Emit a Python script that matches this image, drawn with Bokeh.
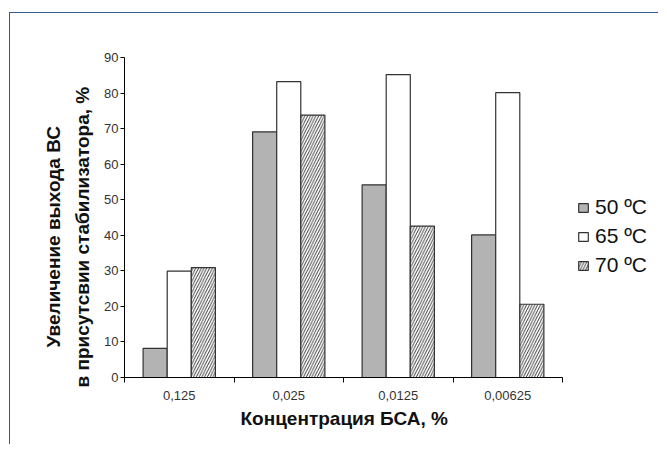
import numpy as np
from bokeh.plotting import figure
from bokeh.models import (ColumnDataSource, Range1d, FixedTicker, Legend, LegendItem, Title)
from bokeh.transform import dodge
from bokeh.embed import file_html
from bokeh.resources import INLINE

categories = ["0,125", "0,025", "0,0125", "0,00625"]
series_names = ["50 ºC", "65 ºC", "70 ºC"]
t50 = [8.2, 69.1, 54.2, 40.1]
t65 = [29.9, 83.2, 85.2, 80.1]
t70 = [30.9, 73.8, 42.6, 20.6]
y_ticks = [0, 10, 20, 30, 40, 50, 60, 70, 80, 90]
y_title_lines = ["Увеличение выхода ВС", "в присутсвии стабилизатора, %"]
x_title = "Концентрация БСА, %"

n = len(categories)
centers = [i + 0.5 for i in range(n)]
boundaries = list(range(n + 1))
src = ColumnDataSource(dict(x=centers, t50=t50, t65=t65, t70=t70))

FONT = "Liberation Sans"
EDGE = "#333333"

# frame extends right to hold the legend; the x axis is bounded to the categories
x_end = n * 535 / 438
p = figure(width=649, height=432, output_backend="svg", toolbar_location=None,
           x_range=Range1d(0, x_end), y_range=Range1d(0, 90),
           min_border_left=114, min_border_right=0, min_border_top=44,
           min_border_bottom=68)
p.styles = {"margin-left": "10px", "margin-top": "13px",
            "box-shadow": "-1px -1px 0px 0px #2F5A92"}
p.grid.visible = False
p.outline_line_color = None
p.background_fill_color = "white"
p.border_fill_color = "white"

bw = 0.22
r1 = p.vbar(x=dodge("x", -bw, range=p.x_range), top="t50", width=bw, source=src,
            fill_color="#B3B3B3", line_color=EDGE, line_width=1.2)
r2 = p.vbar(x=dodge("x", 0, range=p.x_range), top="t65", width=bw, source=src,
            fill_color="white", line_color=EDGE, line_width=1.2)
r3 = p.vbar(x=dodge("x", bw, range=p.x_range), top="t70", width=bw, source=src,
            fill_color="white", line_color=EDGE, line_width=1.2,
            hatch_pattern="/", hatch_color="#222222", hatch_scale=5.5, hatch_weight=0.9)

# x axis
xa = p.xaxis[0]
xa.bounds = (0, n)
xa.ticker = FixedTicker(ticks=centers, minor_ticks=boundaries)
xa.major_label_overrides = {c: lab for c, lab in zip(centers, categories)}
xa.major_tick_out = 0
xa.major_tick_in = 0
xa.minor_tick_out = 5
xa.minor_tick_in = 0
xa.minor_tick_line_color = "black"
xa.axis_line_color = "black"
xa.major_label_text_font = FONT
xa.major_label_text_font_size = "13px"
xa.major_label_text_color = "#333333"
xa.major_label_standoff = 8

xt = Title(text=x_title, align="left", offset=116, standoff=6,
           text_font=FONT, text_font_style="bold", text_font_size="19px",
           text_color="#111111")
p.add_layout(xt, "below")

ya = p.yaxis[0]
ya.ticker = FixedTicker(ticks=y_ticks)
ya.minor_tick_line_color = None
ya.major_tick_out = 4
ya.major_tick_in = 0
ya.axis_line_color = "black"
ya.major_label_text_font = FONT
ya.major_label_text_font_size = "13px"
ya.major_label_text_color = "#333333"
ya.major_label_standoff = 2

# y title as two side titles (closest to axis first)
t2 = Title(text=y_title_lines[1], align="left", offset=-10, standoff=17,
           text_font=FONT, text_font_style="bold", text_font_size="19px",
           text_line_height=0.85, text_color="#111111")
t1 = Title(text=y_title_lines[0], align="left", offset=30, standoff=-5,
           text_font=FONT, text_font_style="bold", text_font_size="19px",
           text_line_height=0.85, text_color="#111111")
p.add_layout(t2, "left")
p.add_layout(t1, "left")

legend = Legend(items=[LegendItem(label=series_names[0], renderers=[r1]),
                       LegendItem(label=series_names[1], renderers=[r2]),
                       LegendItem(label=series_names[2], renderers=[r3])],
                location=(453, 100), orientation="vertical",
                glyph_width=12, glyph_height=11, label_standoff=6,
                label_text_font=FONT, label_text_font_size="21px",
                label_text_color="#111111", spacing=5, padding=0, margin=0,
                border_line_color=None, background_fill_alpha=0)
p.add_layout(legend)

open("out.html", "w").write(file_html(p, INLINE))
